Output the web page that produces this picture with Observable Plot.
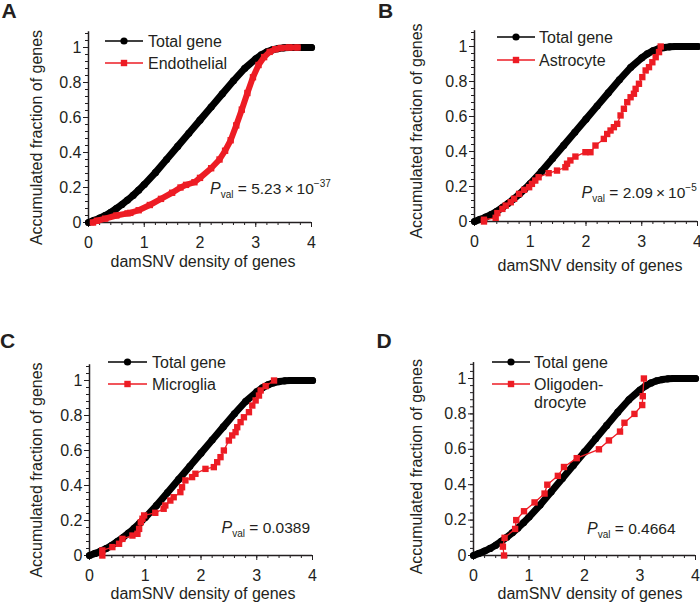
<!DOCTYPE html>
<html><head><meta charset="utf-8">
<script src="https://cdn.jsdelivr.net/npm/d3@7"></script>
<script src="https://cdn.jsdelivr.net/npm/@observablehq/plot@0.6"></script>
<style>
body{margin:0;background:#fff;}
#root{position:relative;width:700px;height:607px;font-family:"Liberation Sans",Arial,Helvetica,sans-serif;}
#root svg{position:absolute;overflow:visible;}
</style></head><body><div id="root"></div>
<script>
// ---- data ----
const totalX = [0,0.1,0.2,0.3,0.4,0.5,0.6,0.7,0.8,0.9,1.0,1.2,1.4,1.6,1.8,2.0,2.2,2.4,2.6,2.8,3.0,3.1,3.2,3.3,3.4,3.5,3.6,3.8,4.0];
const totalY = [0,0.012,0.025,0.04,0.058,0.08,0.103,0.128,0.155,0.185,0.217,0.285,0.36,0.435,0.51,0.585,0.66,0.735,0.81,0.88,0.935,0.958,0.975,0.987,0.994,0.998,1,1,1];

const endoX = [0.08,0.15,0.3,0.5,0.7,0.75,0.9,1.1,1.3,1.5,1.65,1.75,1.9,2.0,2.2,2.35,2.45,2.55,2.65,2.75,2.85,2.95,3.05,3.15,3.25,3.35,3.45,3.6,3.75];
const endoY = [0,0.01,0.022,0.04,0.052,0.055,0.07,0.1,0.135,0.17,0.2,0.215,0.23,0.255,0.31,0.36,0.41,0.47,0.555,0.645,0.74,0.83,0.9,0.945,0.975,0.99,0.997,1,1];

const astroX = [0.17,0.17,0.38,0.41,0.5,0.56,0.65,0.71,0.8,0.89,0.98,1.03,1.09,1.15,1.33,1.48,1.63,1.66,1.72,1.81,1.99,2.08,2.17,2.32,2.38,2.44,2.5,2.56,2.62,2.68,2.74,2.8,2.86,2.89,2.95,3.01,3.07,3.13,3.19,3.25,3.31,3.34];
const astroY = [0,0.01,0.021,0.048,0.072,0.091,0.11,0.13,0.158,0.181,0.196,0.215,0.234,0.253,0.276,0.291,0.31,0.33,0.349,0.371,0.396,0.396,0.434,0.472,0.5,0.52,0.539,0.558,0.606,0.644,0.682,0.71,0.73,0.758,0.787,0.825,0.863,0.882,0.91,0.939,0.968,1.0];

const microX = [0.23,0.23,0.41,0.53,0.59,0.77,0.86,0.89,0.92,0.95,0.98,1.18,1.33,1.36,1.45,1.51,1.63,1.66,1.72,1.84,1.9,2.08,2.23,2.29,2.35,2.41,2.5,2.56,2.62,2.65,2.71,2.77,2.86,2.92,2.98,3.04,3.07,3.16,3.31];
const microY = [0,0.029,0.048,0.067,0.095,0.114,0.124,0.152,0.19,0.21,0.229,0.244,0.267,0.286,0.314,0.333,0.362,0.39,0.429,0.448,0.467,0.495,0.505,0.533,0.562,0.6,0.657,0.686,0.705,0.733,0.762,0.79,0.819,0.857,0.886,0.914,0.943,0.968,1.0];

const oligoX = [0.55,0.53,0.56,0.75,0.77,0.91,1.1,1.28,1.33,1.52,1.63,1.86,2.26,2.44,2.64,2.72,2.9,3.04,3.05,3.07];
const oligoY = [0,0.05,0.1,0.15,0.2,0.25,0.3,0.35,0.4,0.45,0.5,0.55,0.6,0.65,0.7,0.75,0.8,0.85,0.9,1.0];

const panelLetters = ["A","B","C","D"];
const cellNames = ["Endothelial","Astrocyte","Microglia","Oligoden-"];
const pMantissa = ["5.23\u2009×\u200910","2.09\u2009×\u200910","0.0389","0.4664"];
const pExponent = ["−37","−5","",""];
const xTicks = [0,1,2,3,4];
const yTicks = [0,0.2,0.4,0.6,0.8,1];
const seriesLabel = "Total gene";
const xTitle = "damSNV density of genes";
const yTitle = "Accumulated fraction of genes";

// ---- layout ----
const FONT = '"Liberation Sans", Arial, Helvetica, sans-serif';
const INK = "#231f20";
const RED = "#ed1c24";
const minorX = d3.range(0, 21).map(i => +(i * 0.2).toFixed(2));
const minorY = d3.range(0, 28).map(i => +(i * 0.04).toFixed(2));

const layouts = [
  {left:0, top:0, w:350, h:300, ml:88, mr:39, y0:222, unit:175, dense:true,
   leg:{r1:41, r2:63, l1:105, l2:143, tx:148}, p:{x:210, y:194}, xt:{x:203, y:266.5}, yt:{x:37.5, y:137.5}, letter:{x:1.5, y:18}},
  {left:350, top:0, w:350, h:300, ml:124, mr:3, y0:221, unit:175, dense:false,
   leg:{r1:37, r2:60, l1:147, l2:185, tx:189}, p:{x:231.5, y:197.5}, xt:{x:240, y:270.5}, yt:{x:68.3, y:131}, letter:{x:28, y:17.5}},
  {left:0, top:300, w:350, h:307, ml:89, mr:38, y0:255, unit:175, dense:false,
   leg:{r1:62, r2:84, l1:108, l2:147, tx:152}, p:{x:221.5, y:232.5}, xt:{x:203, y:299}, yt:{x:37.5, y:170}, letter:{x:0, y:48}},
  {left:350, top:300, w:350, h:307, ml:123, mr:5, y0:255, unit:177, dense:false,
   leg:{r1:62, r2:84, l1:142, l2:180, tx:184, extra:"drocyte"}, p:{x:237, y:233.5}, xt:{x:240, y:299}, yt:{x:67.7, y:166.7}, letter:{x:26.5, y:48}}
];
const cells = [[endoX,endoY],[astroX,astroY],[microX,microY],[oligoX,oligoY]];

const root = document.getElementById("root");
const total = totalX.map((x, i) => ({x, y: totalY[i]}));

layouts.forEach((L, k) => {
  const cell = cells[k][0].map((x, i) => ({x, y: cells[k][1][i]}));
  const frameH = 1.09 * L.unit;
  const svg = Plot.plot({
    width: L.w, height: L.h,
    marginLeft: L.ml, marginRight: L.mr,
    marginTop: L.y0 - frameH, marginBottom: L.h - L.y0,
    x: {domain: [0, 4]},
    y: {domain: [0, 1.09]},
    style: {fontFamily: FONT, fontSize: "16px", color: INK, background: "transparent"},
    marks: [
      Plot.axisX({ticks: minorX, tickSize: 3, tickFormat: () => "", label: null, stroke: INK, strokeWidth: 1}),
      Plot.axisX({ticks: xTicks, tickSize: 5, tickPadding: 9, tickFormat: d => String(d), label: null, stroke: INK, fill: INK, strokeWidth: 1, fontSize: 16}),
      Plot.axisY({ticks: minorY, tickSize: 3, tickFormat: () => "", label: null, stroke: INK, strokeWidth: 1}),
      Plot.axisY({ticks: yTicks, tickSize: 5, tickPadding: 2, tickFormat: d => String(+d.toFixed(2)), label: null, stroke: INK, fill: INK, strokeWidth: 1, fontSize: 16}),
      Plot.ruleX([0], {stroke: INK, strokeWidth: 1.5}),
      Plot.ruleY([0], {stroke: INK, strokeWidth: 1.5}),
      Plot.line(total, {x: "x", y: "y", stroke: "#000", strokeWidth: 7, strokeLinejoin: "round", strokeLinecap: "round"}),
      Plot.dot(total, {x: "x", y: "y", r: 3.6, fill: "#000"}),
      Plot.line(cell, {x: "x", y: "y", stroke: RED, strokeWidth: L.dense ? 6 : 1.3, strokeLinejoin: "round"}),
      Plot.dot(cell, {x: "x", y: "y", symbol: "square", r: 3.6, fill: RED})
    ]
  });
  svg.style.left = L.left + "px";
  svg.style.top = L.top + "px";
  root.appendChild(svg);

  const g = d3.select(svg).append("g").attr("font-family", FONT).attr("fill", INK).attr("text-anchor", "start");
  // panel letter
  g.append("text").attr("x", L.letter.x).attr("y", L.letter.y).attr("font-size", 21).attr("font-weight", "bold").text(panelLetters[k]);
  // axis titles
  g.append("text").attr("x", L.xt.x).attr("y", L.xt.y).attr("text-anchor", "middle").attr("font-size", 16).text(xTitle);
  g.append("text").attr("transform", `translate(${L.yt.x + 4},${L.yt.y}) rotate(-90)`).attr("text-anchor", "middle").attr("font-size", 16).text(yTitle);
  // legend
  const lg = L.leg, mid = (lg.l1 + lg.l2) / 2;
  g.append("line").attr("x1", lg.l1).attr("x2", lg.l2).attr("y1", lg.r1).attr("y2", lg.r1).attr("stroke", "#000").attr("stroke-width", 1.6);
  g.append("circle").attr("cx", mid).attr("cy", lg.r1).attr("r", 3.6).attr("fill", "#000");
  g.append("text").attr("x", lg.tx).attr("y", lg.r1 + 5.5).attr("font-size", 16).text(seriesLabel);
  g.append("line").attr("x1", lg.l1).attr("x2", lg.l2).attr("y1", lg.r2).attr("y2", lg.r2).attr("stroke", RED).attr("stroke-width", 1.3);
  g.append("rect").attr("x", mid - 3.2).attr("y", lg.r2 - 3.2).attr("width", 6.4).attr("height", 6.4).attr("fill", RED);
  g.append("text").attr("x", lg.tx).attr("y", lg.r2 + 5.5).attr("font-size", 16).text(cellNames[k]);
  if (lg.extra) g.append("text").attr("x", lg.tx).attr("y", lg.r2 + 18 + 5.5).attr("font-size", 16).text(lg.extra);
  // P value
  const t = g.append("text").attr("x", L.p.x).attr("y", L.p.y).attr("font-size", 15.5);
  t.append("tspan").attr("font-style", "italic").attr("font-size", 16).text("P");
  t.append("tspan").attr("font-size", 10).attr("dy", 4).text("val");
  t.append("tspan").attr("dy", -4).text(" = " + pMantissa[k]);
  if (pExponent[k]) t.append("tspan").attr("font-size", 10).attr("dy", -7).text(pExponent[k]);
});
</script>
</body></html>
